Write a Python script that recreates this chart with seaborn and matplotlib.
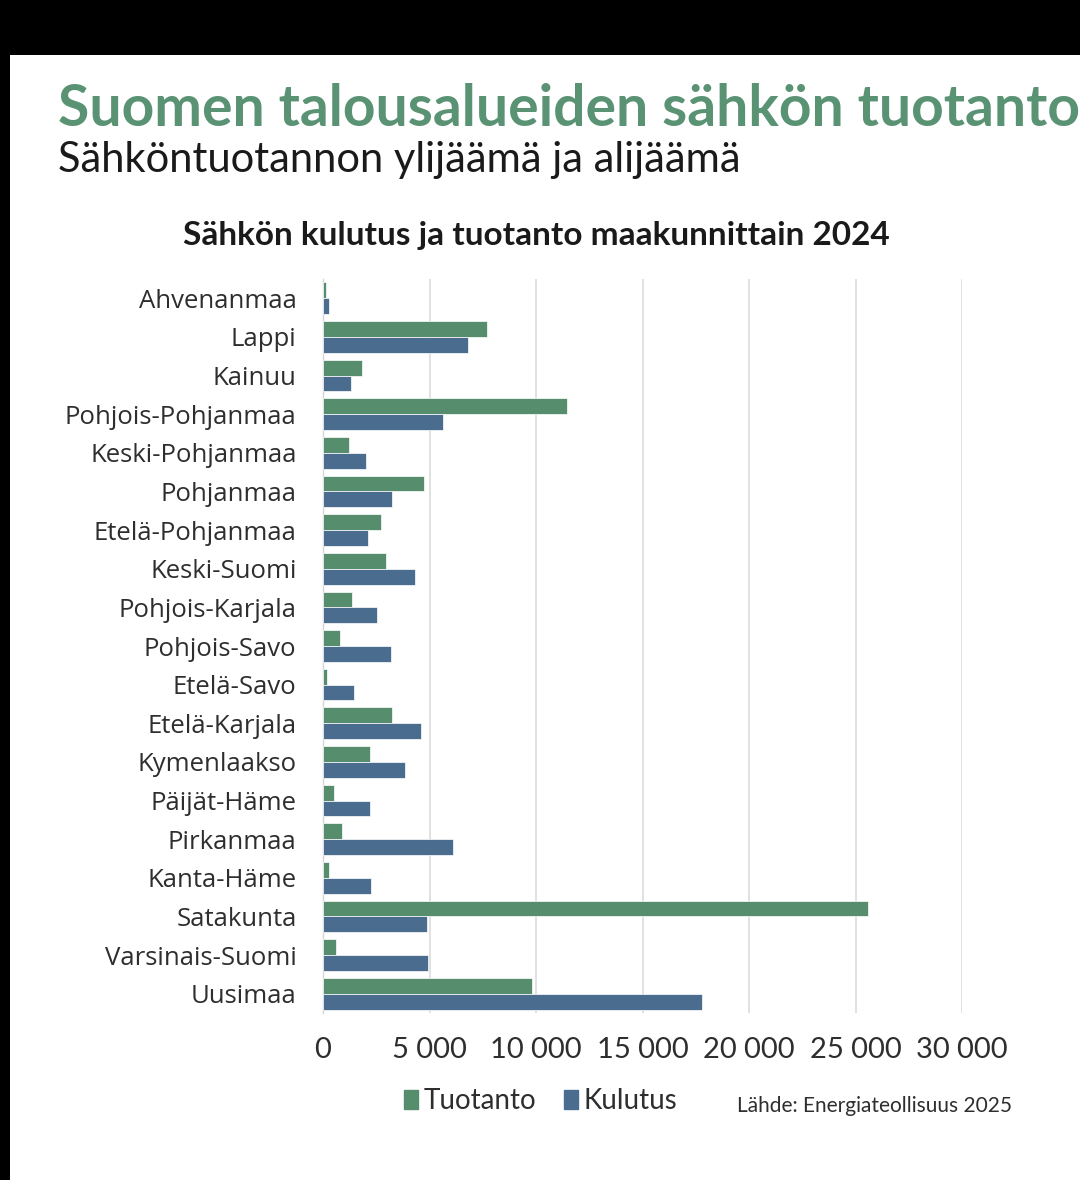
import matplotlib

matplotlib.use("Agg")
import matplotlib.pyplot as plt
import matplotlib.patches as mpatches
import pandas as pd
import seaborn as sns

# Data (GWh)
regions = [
    "Ahvenanmaa", "Lappi", "Kainuu", "Pohjois-Pohjanmaa", "Keski-Pohjanmaa",
    "Pohjanmaa", "Etelä-Pohjanmaa", "Keski-Suomi", "Pohjois-Karjala",
    "Pohjois-Savo", "Etelä-Savo", "Etelä-Karjala", "Kymenlaakso",
    "Päijät-Häme", "Pirkanmaa", "Kanta-Häme", "Satakunta",
    "Varsinais-Suomi", "Uusimaa",
]
tuotanto = [150, 7700, 1850, 11450, 1200, 4750, 2700, 2950, 1370, 800,
            200, 3250, 2200, 500, 900, 280, 25600, 600, 9800]
kulutus = [300, 6800, 1300, 5650, 2000, 3250, 2100, 4300, 2530, 3200,
           1450, 4600, 3850, 2200, 6100, 2250, 4900, 4950, 17800]
series_names = ["Tuotanto", "Kulutus"]
x_ticks = [0, 5000, 10000, 15000, 20000, 25000, 30000]

GREEN = "#568e6d"
BLUE = "#4a6d8f"
TITLE_GREEN = "#5a9274"
TEXT = "#2e2e2e"

df = pd.DataFrame({"region": regions, "Tuotanto": tuotanto, "Kulutus": kulutus})
long_df = df.melt(id_vars="region", var_name="series", value_name="value")

sns.set_theme(style="white")
plt.rcParams["font.family"] = ["Lato", "DejaVu Sans"]

fig = plt.figure(figsize=(10.8, 11.8), dpi=100)
fig.patch.set_facecolor("black")
# white card on top of the black frame
fig.patches.append(mpatches.Rectangle((10 / 1080, 0), 1, 1 - 55 / 1180,
                                      transform=fig.transFigure,
                                      facecolor="white", edgecolor="none",
                                      zorder=-10))

ax = fig.add_axes([323 / 1080, 1 - 1013 / 1180, (962 - 323) / 1080, (1013 - 279) / 1180])
ax.set_facecolor("white")
ax.set_zorder(1)

sns.barplot(
    data=long_df, y="region", x="value", hue="series", order=regions,
    hue_order=series_names, palette=[GREEN, BLUE], saturation=1, orient="h",
    width=0.82, edgecolor="white", linewidth=0.5, ax=ax, legend=False,
    zorder=3,
)

ax.set_xlim(0, 30000)
ax.set_xticks(x_ticks)
ax.set_xticklabels([f"{v:,}".replace(",", "\u202f") for v in x_ticks],
                   fontsize=21, color=TEXT)
for lbl in ax.get_yticklabels():
    lbl.set_fontfamily(["Open Sans", "DejaVu Sans"])
ax.tick_params(axis="y", labelsize=18.5, colors=TEXT, length=0, pad=19)
ax.tick_params(axis="x", length=0, pad=17)
ax.xaxis.grid(True, color="#dcdcdc", linewidth=1.2, zorder=0)
ax.set_axisbelow(True)
for side in ["top", "right", "bottom"]:
    ax.spines[side].set_visible(False)
ax.spines["left"].set_color("#d5d5d5")
ax.spines["left"].set_linewidth(1.0)
ax.set_xlabel("")
ax.set_ylabel("")

# Titles
fig.text(58 / 1080, 1 - 110 / 1180, "Suomen talousalueiden sähkön tuotanto",
         fontsize=41, fontweight="bold", color=TITLE_GREEN, va="center", ha="left")
fig.text(58 / 1080, 1 - 160 / 1180, "Sähköntuotannon ylijäämä ja alijäämä",
         fontsize=30, color="#1a1a1a", va="center", ha="left")
fig.text(536 / 1080, 1 - 235 / 1180, "Sähkön kulutus ja tuotanto maakunnittain 2024",
         fontsize=24, fontweight="bold", color="#1a1a1a", va="center", ha="center")

# Legend
handles = [mpatches.Patch(color=GREEN, label=series_names[0]),
           mpatches.Patch(color=BLUE, label=series_names[1])]
fig.legend(handles=handles, loc="center", bbox_to_anchor=(541 / 1080, 1 - 1101 / 1180),
           ncol=2, frameon=False, fontsize=20, handlelength=0.5, handleheight=0.7,
           handletextpad=0.2, columnspacing=1.0, labelcolor=TEXT)

fig.text(1012 / 1080, 1 - 1106 / 1180, "Lähde: Energiateollisuus 2025",
         fontsize=15, color=TEXT, va="center", ha="right")

fig.savefig("out.png", dpi=100, facecolor=fig.get_facecolor())
